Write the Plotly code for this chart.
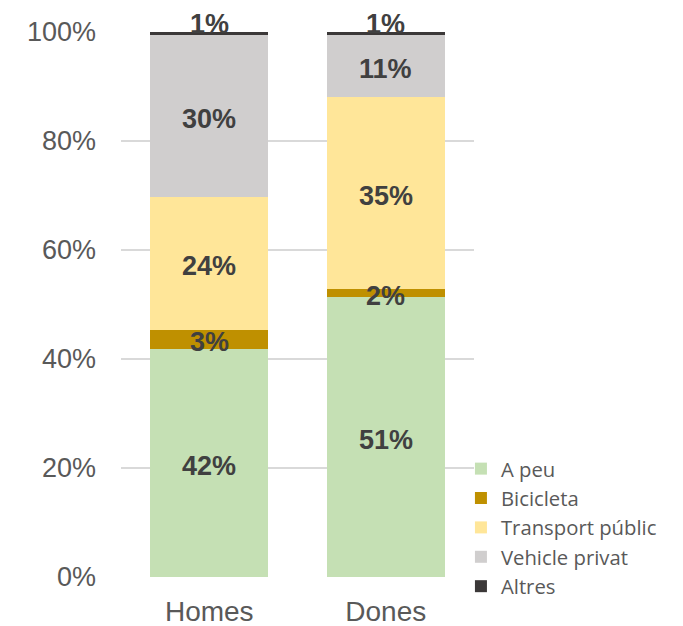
import plotly.graph_objects as go

categories = ["Homes", "Dones"]
series_names = ["A peu", "Bicicleta", "Transport públic", "Vehicle privat", "Altres"]
a_peu = [41.9, 51.3]
bicicleta = [3.4, 1.5]
transport_public = [24.5, 35.3]
vehicle_privat = [29.6, 11.3]
altres = [0.6, 0.6]
series_values = [a_peu, bicicleta, transport_public, vehicle_privat, altres]
colors = ["#C5E0B4", "#BF9000", "#FFE699", "#D0CECE", "#3B3838"]
y_ticks = [0, 20, 40, 60, 80, 100]
y_tick_labels = ["0%", "20%", "40%", "60%", "80%", "100%"]

label_font = dict(family="Liberation Sans, Arial", size=27, color="#404040", weight="bold")

fig = go.Figure()
for name, vals, col in zip(series_names, series_values, colors):
    fig.add_trace(go.Bar(
        x=categories, y=vals, name=name,
        marker=dict(color=col, line=dict(width=0)),
        textposition="none",
        cliponaxis=False,
    ))

# data labels drawn above all bars: centred on each segment, the top (Altres) one above the stack
for i, cat in enumerate(categories):
    base = 0.0
    for name, vals in zip(series_names, series_values):
        v = vals[i]
        if name == "Altres":
            fig.add_annotation(x=cat, y=base + v, text=f"{round(v):d}%", showarrow=False,
                               yshift=8, font=label_font)
        else:
            fig.add_annotation(x=cat, y=base + v / 2, text=f"{round(v):d}%", showarrow=False,
                               yshift=-3, font=label_font)
        base += v

fig.update_layout(
    barmode="stack",
    bargap=0.333,
    width=675, height=618,
    margin=dict(l=113, r=209, t=24, b=49),
    plot_bgcolor="white", paper_bgcolor="white",
    showlegend=True,
    legend=dict(
        x=0.963, xanchor="left", y=0.235, yanchor="top",
        traceorder="normal",
        font=dict(family="Open Sans", size=20.3, color="#595959"),
        itemwidth=30, tracegroupgap=0,
        bgcolor="rgba(0,0,0,0)",
    ),
    xaxis=dict(
        showline=False, showgrid=False, automargin=False,
        tickfont=dict(family="Liberation Sans, Arial", size=28, color="#595959"),
        ticklabelstandoff=15,
        range=[-0.5, 1.5],
    ),
    yaxis=dict(
        range=[0, 100], automargin=False,
        tickvals=y_ticks, ticktext=y_tick_labels,
        showgrid=True, gridcolor="#D9D9D9", gridwidth=1.5,
        zeroline=False, showline=False,
        tickfont=dict(family="Liberation Sans, Arial", size=27, color="#595959"),
        ticklabelstandoff=24,
    ),
)
fig.write_html("out.html")
